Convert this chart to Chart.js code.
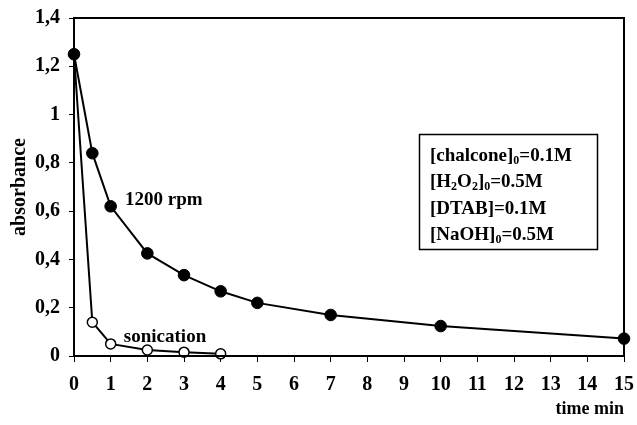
<!DOCTYPE html>
<html>
<head>
<meta charset="utf-8">
<script src="https://cdn.jsdelivr.net/npm/chart.js@4"></script>
<style>
  html, body { margin: 0; padding: 0; background: #fff; }
  #wrap { width: 637px; height: 425px; position: relative; }
</style>
</head>
<body>
<div id="wrap"><canvas id="c"></canvas></div>
<script>
// data
const timeRpm = [0, 0.5, 1, 2, 3, 4, 5, 7, 10, 15];
const absRpm = [1.25, 0.84, 0.62, 0.425, 0.335, 0.268, 0.22, 0.17, 0.124, 0.072];
const timeSono = [0, 0.5, 1, 2, 3, 4];
const absSono = [1.25, 0.14, 0.05, 0.025, 0.016, 0.009];

const xTicks = [0, 1, 2, 3, 4, 5, 6, 7, 8, 9, 10, 11, 12, 13, 14, 15];
const yTicks = [0, 0.2, 0.4, 0.6, 0.8, 1, 1.2, 1.4];

// conditions box, [text, subscript?]
const boxLines = [
  [["[chalcone]", false], ["0", true], ["=0.1M", false]],
  [["[H", false], ["2", true], ["O", false], ["2", true], ["]", false], ["0", true], ["=0.5M", false]],
  [["[DTAB]=0.1M", false]],
  [["[NaOH]", false], ["0", true], ["=0.5M", false]],
];

const FONT = "'Liberation Serif', 'DejaVu Serif', serif";

const pts = (xs, ys) => xs.map((x, i) => ({ x, y: ys[i] }));

const extras = {
  id: "extras",
  afterDraw(chart) {
    const { ctx, chartArea: a, scales } = chart;
    ctx.save();
    // frame
    ctx.strokeStyle = "#000";
    ctx.lineWidth = 2;
    ctx.strokeRect(a.left, a.top, a.right - a.left, a.bottom - a.top);

    // series labels
    ctx.fillStyle = "#000";
    ctx.font = `bold 19px ${FONT}`;
    ctx.textBaseline = "middle";
    ctx.textAlign = "left";
    ctx.fillText("1200 rpm", scales.x.getPixelForValue(1.39), scales.y.getPixelForValue(0.645));
    ctx.fillText("sonication", scales.x.getPixelForValue(1.36), scales.y.getPixelForValue(0.08));

    // conditions box
    ctx.lineWidth = 1.5;
    ctx.strokeRect(419.5, 134.5, 178, 115);
    let y = 156;
    for (const line of boxLines) {
      let x = 430;
      for (const [t, sub] of line) {
        ctx.font = sub ? `bold 12px ${FONT}` : `bold 19px ${FONT}`;
        ctx.fillText(t, x, sub ? y + 5 : y);
        x += ctx.measureText(t).width;
      }
      y += 26.3;
    }
    ctx.restore();
  },
};

new Chart(document.getElementById("c"), {
  type: "scatter",
  data: {
    datasets: [
      {
        label: "1200 rpm",
        data: pts(timeRpm, absRpm),
        showLine: true,
        borderColor: "#000",
        borderWidth: 2,
        backgroundColor: "#000",
        pointRadius: 5.8,
        pointBorderWidth: 1,
        pointBorderColor: "#000",
      },
      {
        label: "sonication",
        data: pts(timeSono, absSono),
        showLine: true,
        borderColor: "#000",
        borderWidth: 2,
        pointBackgroundColor: "#fff",
        pointBorderColor: "#000",
        pointBorderWidth: 1.5,
        pointRadius: 5,
      },
    ],
  },
  options: {
    responsive: true,
    maintainAspectRatio: false,
    animation: false,
    clip: false,
    layout: { padding: { top: 18, right: 13, left: 0, bottom: 0 } },
    plugins: { legend: { display: false }, tooltip: { enabled: false } },
    scales: {
      x: {
        type: "linear",
        min: 0,
        max: 15,
        afterFit: (s) => { s.height = 69; s.paddingLeft = 0; s.paddingRight = 0; },
        afterBuildTicks: (s) => { s.ticks = xTicks.map((v) => ({ value: v })); },
        grid: { drawOnChartArea: false, drawTicks: true, tickLength: 6, color: "#000", lineWidth: 1 },
        border: { display: true, color: "#000", width: 2 },
        ticks: { color: "#000", padding: 11, font: { family: FONT, size: 20, weight: "bold" }, maxRotation: 0 },
        title: {
          display: true,
          text: "time min",
          align: "end",
          color: "#000",
          font: { family: FONT, size: 18, weight: "bold" },
          padding: { top: 0, bottom: 5 },
        },
      },
      y: {
        min: 0,
        max: 1.4,
        afterFit: (s) => { s.width = 74; s.paddingTop = 0; s.paddingBottom = 0; },
        afterBuildTicks: (s) => { s.ticks = yTicks.map((v) => ({ value: v })); },
        grid: { drawOnChartArea: false, drawTicks: true, tickLength: 5, color: "#000", lineWidth: 1 },
        border: { display: true, color: "#000", width: 2 },
        ticks: {
          color: "#000",
          padding: 9,
          font: { family: FONT, size: 20, weight: "bold" },
          callback: (v) => String(Math.round(v * 10) / 10).replace(".", ","),
        },
        title: {
          display: true,
          text: "absorbance",
          color: "#000",
          font: { family: FONT, size: 20, weight: "bold" },
          padding: { top: 8, bottom: 0 },
        },
      },
    },
  },
  plugins: [extras],
});
</script>
</body>
</html>
